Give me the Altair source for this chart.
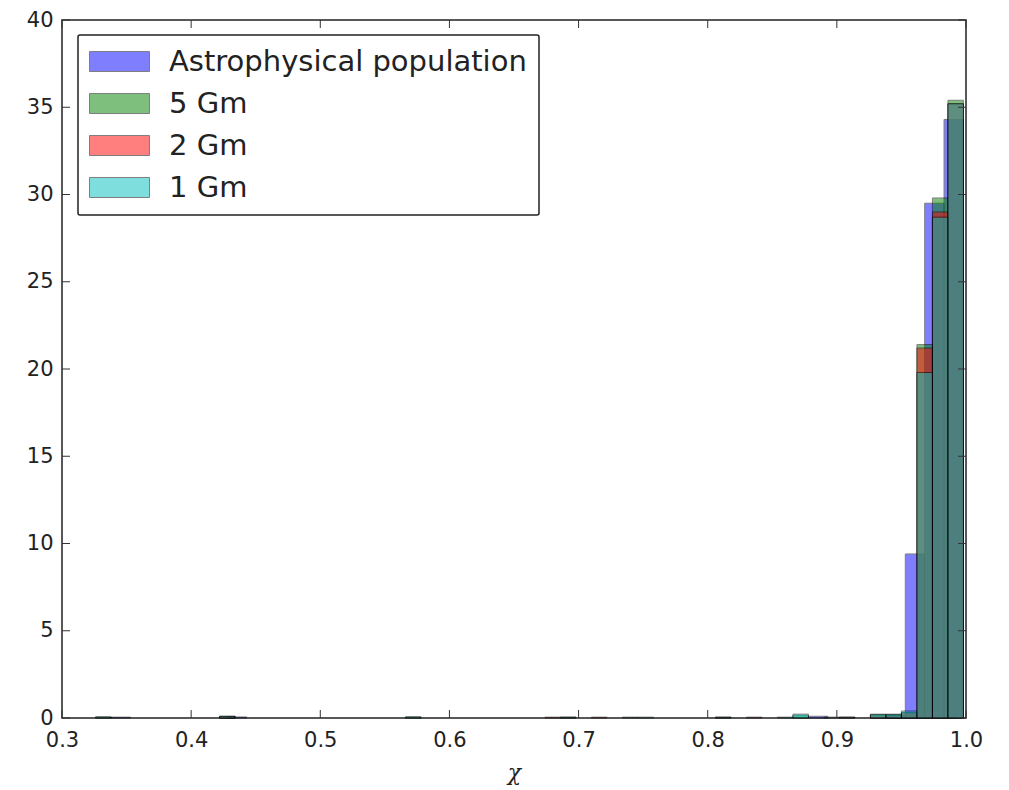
import altair as alt
import pandas as pd

# ---- data (density histograms) ----
series_names = ["Astrophysical population", "5 Gm", "2 Gm", "1 Gm"]
series_colors = ["#0000ff", "#008000", "#ff0000", "#00bfbf"]

astro_start = [0.338, 0.428, 0.878, 0.938, 0.953, 0.968, 0.983]
astro_width = 0.015
astro_height = [0.05, 0.06, 0.10, 0.15, 9.4, 29.5, 34.3]

gm5_start = [0.326, 0.422, 0.566, 0.686, 0.734, 0.806, 0.866, 0.890, 0.926, 0.938, 0.950, 0.962, 0.974, 0.986]
gm5_height = [0.06, 0.10, 0.06, 0.05, 0.05, 0.05, 0.15, 0.05, 0.20, 0.20, 0.30, 21.4, 29.8, 35.4]

gm2_start = [0.422, 0.674, 0.710, 0.830, 0.902, 0.926, 0.938, 0.950, 0.962, 0.974, 0.986]
gm2_height = [0.08, 0.05, 0.05, 0.05, 0.05, 0.15, 0.15, 0.30, 21.2, 29.0, 35.2]

gm1_start = [0.326, 0.422, 0.566, 0.686, 0.746, 0.806, 0.854, 0.866, 0.902, 0.926, 0.938, 0.950, 0.962, 0.974, 0.986]
gm1_height = [0.06, 0.10, 0.06, 0.05, 0.05, 0.05, 0.05, 0.22, 0.05, 0.22, 0.22, 0.40, 19.8, 28.7, 35.2]
gm_width = 0.012

x_ticks = [0.3, 0.4, 0.5, 0.6, 0.7, 0.8, 0.9, 1.0]
y_ticks = [0, 5, 10, 15, 20, 25, 30, 35, 40]

rows = []
for s, h in zip(astro_start, astro_height):
    rows.append({"series": series_names[0], "start": s, "end": s + astro_width, "h": h, "order": 0})
for name, starts, heights, o in [(series_names[1], gm5_start, gm5_height, 1),
                                 (series_names[2], gm2_start, gm2_height, 2),
                                 (series_names[3], gm1_start, gm1_height, 3)]:
    for s, h in zip(starts, heights):
        rows.append({"series": name, "start": s, "end": s + gm_width, "h": h, "order": o})
df = pd.DataFrame(rows)

W, H = 904, 698
xscale = alt.Scale(domain=[0.3, 1.0], nice=False, zero=False)
yscale = alt.Scale(domain=[0, 40], nice=False)

bars = alt.Chart(df).mark_rect(opacity=0.5, stroke="black", strokeWidth=1).encode(
    x=alt.X("start:Q", scale=xscale,
            axis=alt.Axis(values=x_ticks, format=".1f", ticks=False, domain=False, grid=False,
                          labelFontSize=21, labelFont="DejaVu Sans", labelColor="#222",
                          labelPadding=11, labelFlush=False,
                          title="χ", titleFont="DejaVu Serif", titleFontStyle="italic",
                          titleFontWeight="normal", titleFontSize=22, titleColor="#222",
                          titlePadding=12)),
    x2="end:Q",
    y=alt.Y("h:Q", scale=yscale,
            axis=alt.Axis(values=y_ticks, ticks=False, domain=False, grid=False,
                          labelFontSize=21, labelFont="DejaVu Sans", labelColor="#222",
                          labelPadding=9, labelFlush=False, title=None)),
    y2=alt.datum(0),
    color=alt.Color("series:N",
                    scale=alt.Scale(domain=series_names, range=series_colors),
                    legend=alt.Legend(orient="none", legendX=16, legendY=15, title=None,
                                      padding=12, strokeColor="#222",
                                      fillColor="white", cornerRadius=2,
                                      symbolType="M-2.222,-0.741H2.222V0.741H-2.222Z",
                                      symbolSize=729, symbolOffset=15,
                                      symbolStrokeColor="black", symbolStrokeWidth=1,
                                      symbolOpacity=0.5,
                                      labelFontSize=29, labelFont="DejaVu Sans",
                                      labelColor="#222", labelOffset=35, labelLimit=1000,
                                      rowPadding=12)),
    order=alt.Order("order:Q"),
)

xt_df = pd.DataFrame({"t": x_ticks})
yt_df = pd.DataFrame({"t": y_ticks})
tick_col = "#333"

xt_bottom = alt.Chart(xt_df).mark_rule(color=tick_col, strokeWidth=1).encode(
    x=alt.X("t:Q", scale=xscale), y=alt.value(H), y2=alt.value(H - 8))
xt_top = alt.Chart(xt_df).mark_rule(color=tick_col, strokeWidth=1).encode(
    x=alt.X("t:Q", scale=xscale), y=alt.value(0), y2=alt.value(8))
yt_left = alt.Chart(yt_df).mark_rule(color=tick_col, strokeWidth=1).encode(
    y=alt.Y("t:Q", scale=yscale), x=alt.value(0), x2=alt.value(8))
yt_right = alt.Chart(yt_df).mark_rule(color=tick_col, strokeWidth=1).encode(
    y=alt.Y("t:Q", scale=yscale), x=alt.value(W), x2=alt.value(W - 8))

chart = alt.layer(bars, xt_bottom, xt_top, yt_left, yt_right).properties(
    width=W, height=H,
    autosize=alt.AutoSizeParams(type="none"),
    padding={"left": 62, "top": 20, "right": 43, "bottom": 72},
).configure_view(stroke="#222", strokeWidth=1.5).configure_legend(
    strokeWidth=1.5
)

chart.save("out.html", embed_options={"renderer": "svg", "actions": False})
